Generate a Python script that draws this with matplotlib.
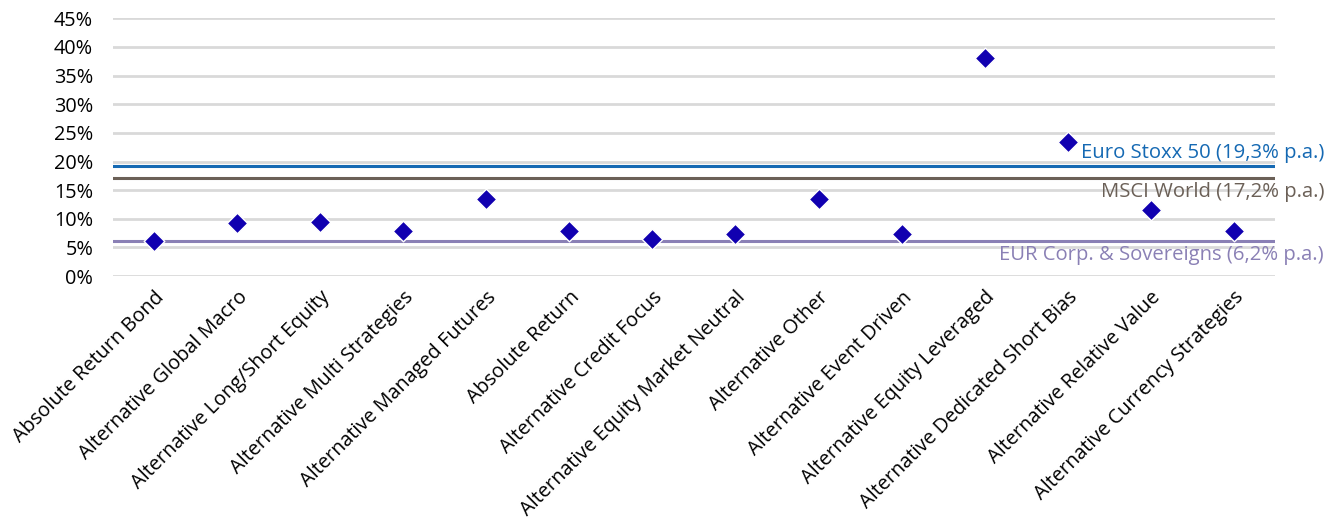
import matplotlib
matplotlib.use('Agg')
import matplotlib.pyplot as plt
from matplotlib.ticker import FuncFormatter

categories = ['Absolute Return Bond', 'Alternative Global Macro', 'Alternative Long/Short Equity',
              'Alternative Multi Strategies', 'Alternative Managed Futures', 'Absolute Return',
              'Alternative Credit Focus', 'Alternative Equity Market Neutral', 'Alternative Other',
              'Alternative Event Driven', 'Alternative Equity Leveraged',
              'Alternative Dedicated Short Bias', 'Alternative Relative Value',
              'Alternative Currency Strategies']
volatility = [6.1, 9.2, 9.4, 7.9, 13.4, 7.9, 6.5, 7.4, 13.4, 7.4, 38.1, 23.4, 11.5, 7.9]

bench_names = ['Euro Stoxx 50 (19,3% p.a.)', 'MSCI World (17,2% p.a.)', 'EUR Corp. & Sovereigns (6,2% p.a.)']
bench_values = [19.3, 17.2, 6.2]
bench_colors = ['#1569b3', '#6b6057', '#8a80b5']

plt.rcParams['font.family'] = ['Open Sans', 'DejaVu Sans']

fig = plt.figure(figsize=(13.41, 5.21), dpi=100)
ax = fig.add_axes([0.084, 0.47, 0.867, 0.495])

x = list(range(len(categories)))
ax.set_xlim(-0.5, len(categories) - 0.5)
ax.set_ylim(0, 45)
ax.set_yticks(range(0, 50, 5))
ax.yaxis.set_major_formatter(FuncFormatter(lambda v, p: '{:.0f}%'.format(v)))
ax.grid(axis='y', color='#d9d9d9', linewidth=2, zorder=0)

for name, val, col in zip(bench_names, bench_values, bench_colors):
    ax.axhline(val, color=col, linewidth=2.2, zorder=2)
    if val > 18:
        ax.text(1.042, val + 0.4, name, transform=ax.get_yaxis_transform(), ha='right',
                va='bottom', color=col, fontsize=14.6, zorder=4)
    else:
        ax.text(1.042, val - 0.8, name, transform=ax.get_yaxis_transform(), ha='right',
                va='top', color=col, fontsize=14.6, zorder=4)

ax.scatter(x, volatility, marker='D', s=110, color='#1100b0', edgecolors='white',
           linewidths=1, zorder=5, clip_on=False)

ax.set_xticks(x)
ax.set_xticklabels(categories, rotation=45, ha='right', rotation_mode='anchor', fontsize=14.3)
ax.tick_params(axis='x', length=0, pad=8)
ax.tick_params(axis='y', length=0, pad=14, labelsize=14.3)
for s in ax.spines.values():
    s.set_visible(False)

fig.savefig('out.png', dpi=100)
